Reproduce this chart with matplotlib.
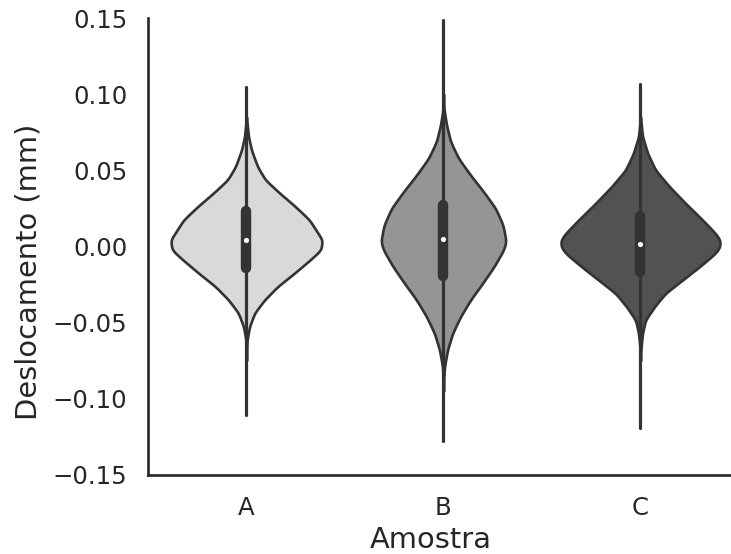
import numpy as np
import matplotlib.pyplot as plt

# amostras e cores
amostras = ['A', 'B', 'C']
cores = ['#d9d9d9', '#959595', '#525252']

# perfil de densidade: (deslocamento, meia-largura)
a_y = [0.085, 0.0721, 0.0634, 0.0524, 0.0437, 0.0351, 0.0261, 0.0174, 0.0089, 0.0043,
       -0.0023, -0.0089, -0.0174, -0.0264, -0.0351, -0.0437, -0.0527, -0.0614, -0.075]
a_w = [0.0, 0.010, 0.025, 0.056, 0.096, 0.168, 0.249, 0.320, 0.362, 0.385,
       0.378, 0.322, 0.244, 0.157, 0.091, 0.041, 0.015, 0.003, 0.0]
b_y = [0.100, 0.0907, 0.0798, 0.0688, 0.0579, 0.0469, 0.0360, 0.0251, 0.0141, 0.0032,
       -0.0023, -0.0133, -0.0242, -0.0351, -0.0461, -0.0570, -0.0680, -0.0789, -0.0877, -0.095]
b_w = [0.0, 0.002, 0.015, 0.036, 0.076, 0.137, 0.203, 0.264, 0.302, 0.318,
       0.305, 0.256, 0.198, 0.137, 0.086, 0.046, 0.020, 0.005, 0.001, 0.0]
c_y = [0.085, 0.0721, 0.0612, 0.0502, 0.0393, 0.0284, 0.0174, 0.0087, 0.0043, -0.0001,
       -0.0045, -0.0133, -0.0220, -0.0307, -0.0395, -0.0483, -0.0570, -0.0658, -0.075]
c_w = [0.0, 0.010, 0.036, 0.076, 0.147, 0.228, 0.315, 0.380, 0.404, 0.404,
       0.380, 0.299, 0.213, 0.127, 0.071, 0.025, 0.010, 0.003, 0.0]

# resumo: minimo, q1, mediana, q3, maximo
minimos = [-0.1106, -0.128, -0.119]
q1 = [-0.014, -0.0194, -0.0165]
medianas = [0.0043, 0.0049, 0.0016]
q3 = [0.0233, 0.0273, 0.0202]
maximos = [0.105, 0.149, 0.107]

perfis = [(a_y, a_w), (b_y, b_w), (c_y, c_w)]

fig = plt.figure(figsize=(7.31, 5.54), dpi=100)
ax = fig.add_axes([148 / 731, 79 / 554, 591 / 731, 457 / 554])

escuro = '#333333'
for i, (py, pw) in enumerate(perfis):
    # contorno suave so para desenhar
    yy = np.linspace(min(py), max(py), 400)
    ww = np.interp(yy, py[::-1], pw[::-1])
    k = np.exp(-0.5 * (np.arange(-12, 13) / 4.0) ** 2)
    k /= k.sum()
    ww = np.convolve(np.pad(ww, 12, mode='edge'), k, mode='valid')
    ax.fill_betweenx(yy, i - ww, i + ww, facecolor=cores[i], edgecolor=escuro,
                     linewidth=1.9, zorder=2)
    ax.plot([i, i], [minimos[i], maximos[i]], color=escuro, lw=2.3,
            solid_capstyle='round', zorder=3)
    ax.plot([i, i], [q1[i], q3[i]], color=escuro, lw=7.5,
            solid_capstyle='round', zorder=4)
    ax.scatter([i], [medianas[i]], s=14, color='white', zorder=5, linewidths=0)

ax.set_xlim(-0.5, 2.5)
ax.set_ylim(-0.15, 0.15)
ax.set_xticks(range(3))
ax.set_xticklabels(amostras)
ax.set_yticks(np.arange(-0.15, 0.151, 0.05))
ax.set_yticklabels([f'{v:.2f}'.replace('-', '\u2212') for v in np.arange(-0.15, 0.151, 0.05)])
ax.tick_params(length=0, labelsize=17.6, colors='#262626')
ax.tick_params(axis='y', pad=15)
ax.tick_params(axis='x', pad=15)
ax.set_xlabel('Amostra', fontsize=20.8, color='#262626')
ax.set_ylabel('Deslocamento (mm)', fontsize=20.8, color='#262626')
ax.xaxis.set_label_coords(0.479, -0.112)
ax.yaxis.set_label_coords(-0.179, 0.444)
for s in ['top', 'right']:
    ax.spines[s].set_visible(False)
for s in ['left', 'bottom']:
    ax.spines[s].set_color('#262626')
    ax.spines[s].set_linewidth(1.9)

fig.savefig('out.png', dpi=100)
